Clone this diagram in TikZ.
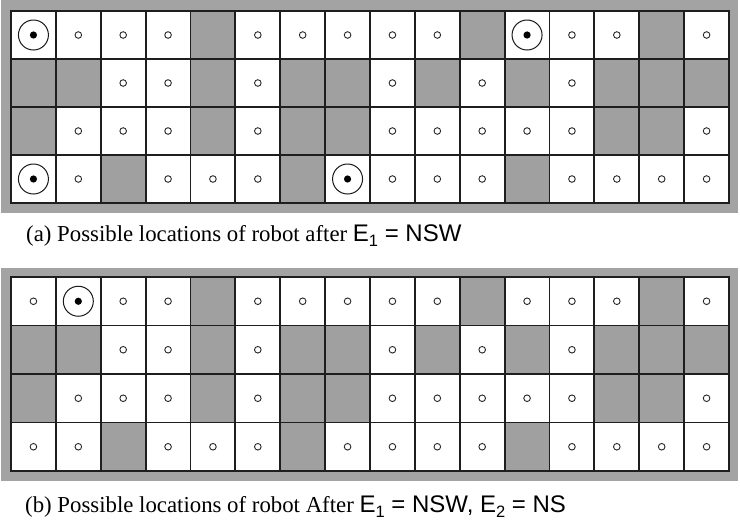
\documentclass[tikz,border=0pt]{standalone}
\usepackage{fontspec}
\setmainfont{Liberation Serif}
\newfontfamily\hsans{Liberation Sans}
\definecolor{panelgrey}{HTML}{A3A3A3}
\definecolor{cellgrey}{HTML}{A0A0A0}
\definecolor{gridcol}{HTML}{1E1E1E}
\tikzset{
  gridline/.style={draw=gridcol,line width=1.8pt},
  smallring/.style={draw=black!85,line width=0.9pt},
  bigring/.style={draw=black!90,line width=1pt},
  caption/.style={anchor=base west,inner sep=0pt,font=\fontsize{22.8}{25}\selectfont},
}
\newcommand\sbs[1]{\raisebox{-0.22em}{\fontsize{16.5}{16.5}\selectfont #1}}
\newcommand\sanspart[1]{{\fontsize{24}{26}\selectfont\hsans #1}}
\expandafter\def\csname bigA-1-1\endcsname{}
\expandafter\def\csname bigA-12-1\endcsname{}
\expandafter\def\csname bigA-1-4\endcsname{}
\expandafter\def\csname bigA-8-4\endcsname{}
\expandafter\def\csname bigB-2-1\endcsname{}
\newcommand\drawpanel[3]{%
  \foreach \rowspec [count=\r] in {%
    {0,0,0,0,1,0,0,0,0,0,1,0,0,0,1,0},
    {1,1,0,0,1,0,1,1,0,1,0,1,0,1,1,1},
    {1,0,0,0,1,0,1,1,0,0,0,0,0,1,1,0},
    {0,0,1,0,0,0,1,0,0,0,0,1,0,0,0,0}}{%
    \foreach \v [count=\c] in \rowspec {%
      \pgfmathsetmacro\xa{11+(\c-1)*44.875}%
      \pgfmathsetmacro\ya{#2+(\r-1)*#3}%
      \pgfmathsetmacro\xm{\xa+22.4375}%
      \pgfmathsetmacro\ym{\ya+#3/2}%
      \ifnum\v=1
        \fill[cellgrey] (\xa,\ya) rectangle ++(44.875,#3);
      \else
        \fill[white] (\xa,\ya) rectangle ++(44.875,#3);
        \ifcsname big#1-\c-\r\endcsname
          \draw[bigring] (\xm,\ym) circle[radius=15];
          \fill[black] (\xm,\ym) circle[radius=3.6];
        \else
          \draw[smallring] (\xm,\ym) circle[radius=3.3];
        \fi
      \fi
    }%
  }%
  \foreach \k in {0,...,16} {%
    \pgfmathsetmacro\xl{11+\k*44.875}%
    \draw[gridline] (\xl,#2-0.9) -- (\xl,#2+4*#3+0.9);
  }%
  \foreach \k in {0,...,4} {%
    \pgfmathsetmacro\yl{#2+\k*#3}%
    \draw[gridline] (10.1,\yl) -- (729.9,\yl);
  }%
}
\begin{document}
\begin{tikzpicture}[x=1pt,y=-1pt]
\useasboundingbox (0,0) rectangle (740,523);
\fill[white] (0,0) rectangle (740,523);
\fill[panelgrey] (1,0) rectangle (738,213);
\fill[panelgrey] (1,268) rectangle (738,481);
\drawpanel{A}{11}{48}
\drawpanel{B}{277}{48.5}
\node[caption] (capa) at (26,241) {(a) Possible locations of robot after \sanspart{E\sbs{1} = NSW}};
\node[caption] (capb) at (25,512) {(b) Possible locations of robot After \sanspart{E\sbs{1} = NSW, E\sbs{2} = NS}};
\end{tikzpicture}
\end{document}
